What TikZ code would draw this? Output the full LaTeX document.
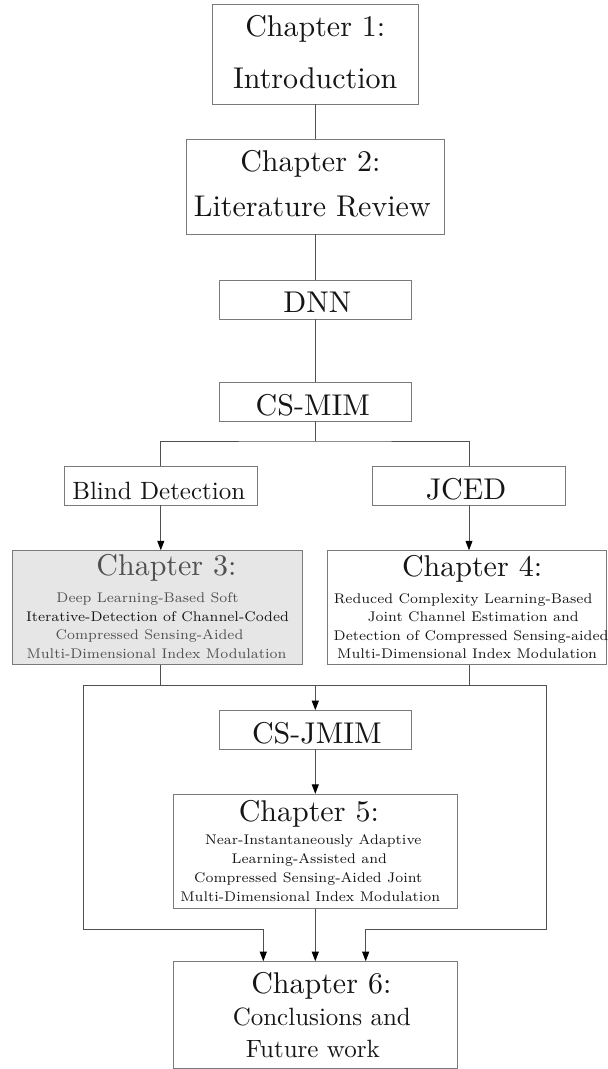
\documentclass[tikz,border=0pt]{standalone}
\usetikzlibrary{arrows.meta}

\definecolor{edgegray}{HTML}{7A7A7A}
\definecolor{wiregray}{HTML}{505050}
\definecolor{inkblack}{HTML}{151515}
\definecolor{chapfill}{HTML}{E6E6E6}
\definecolor{fadedink}{HTML}{505050}

% Text lines at three sizes; the optional argument nudges a line sideways.
\newcommand\titletext[2][0pt]{\makebox[0pt]{\hspace*{#1}\hspace*{#1}\scalebox{3}{\fontsize{10}{12}\selectfont #2}}}
\newcommand\bodytext[2][0pt]{\makebox[0pt]{\hspace*{#1}\hspace*{#1}\scalebox{2.5}{\fontsize{10}{12}\selectfont #2}}}
\newcommand\notetext[2][0pt]{\makebox[0pt]{\hspace*{#1}\hspace*{#1}\scalebox{2}{\fontsize{7}{8.5}\selectfont #2}}}
% extra depth below the last line of a box
\newcommand\lowpad[1]{\rule[-#1]{0pt}{0pt}}

\begin{document}
\begin{tikzpicture}[x=1pt,y=-1pt,
  box/.style={draw=edgegray,line width=0.9pt,inner sep=0pt,align=center,text=inkblack},
  tag/.style={box,minimum height=38.3pt,text height=26.5pt,text depth=0pt},
  wire/.style={draw=wiregray,line width=0.9pt},
  feed/.style={wire,-{Triangle[length=9.5pt,width=7pt,color=black]}},
]
\useasboundingbox (0,0) rectangle (608,1069);

% chapter and topic boxes
\node[box,minimum width=206.6pt,minimum height=100pt,font=\fontsize{10}{52}\selectfont]
  (ch1) at (315.3,54) {\titletext{Chapter 1:}\\\titletext{Introduction}\lowpad{4.8pt}};
\node[box,minimum width=258.3pt,minimum height=95pt,font=\fontsize{10}{45}\selectfont]
  (ch2) at (315.3,186.5) {\titletext[-5pt]{Chapter 2:}\\\titletext[-3pt]{Literature Review}\lowpad{5.4pt}};
\node[tag,minimum width=192.7pt,minimum height=39pt] (dnn) at (315.3,299.5) {\titletext[2pt]{DNN}};
\node[tag,minimum width=192.7pt] (csmim) at (315.3,401.8) {\titletext[-2.5pt]{CS-MIM}};
\node[tag,minimum width=193pt] (blind) at (160.8,485.8) {\bodytext[-2pt]{Blind Detection}};
\node[tag,minimum width=192.6pt] (jced) at (469,485.8) {\titletext[-3pt]{JCED}};

\node[box,fill=chapfill,text=fadedink,minimum width=289.6pt,minimum height=113.6pt,font=\fontsize{10}{18.5}\selectfont]
  (ch3) at (157.5,607.5) {\titletext[9pt]{Chapter 3:}\\[8.5pt]
    \notetext[-10pt]{Deep Learning-Based Soft}\\
    \notetext{\color{inkblack}Iterative-Detection of Channel-Coded}\\
    \notetext[-8pt]{Compressed Sensing-Aided}\\
    \notetext[-1pt]{Multi-Dimensional Index Modulation}\lowpad{1.9pt}};
\node[box,minimum width=278.8pt,minimum height=113.6pt,font=\fontsize{10}{18.5}\selectfont]
  (ch4) at (467.1,607.5) {\titletext[5pt]{Chapter 4:}\\[8.5pt]
    \notetext[-4pt]{Reduced Complexity Learning-Based}\\
    \notetext[6pt]{Joint Channel Estimation and}\\
    \notetext[4pt]{Detection of Compressed Sensing-aided}\\
    \notetext{Multi-Dimensional Index Modulation}\lowpad{1.3pt}};

\node[tag,minimum width=192.7pt] (csjmim) at (315.3,729.8) {\titletext[1.5pt]{CS-JMIM}};

\node[box,minimum width=284.6pt,minimum height=114pt,font=\fontsize{10}{19}\selectfont]
  (ch5) at (315.3,851.3) {\titletext[-6.5pt]{Chapter 5:}\\[4.3pt]
    \notetext[-2pt]{Near-Instantaneously Adaptive}\\
    \notetext[-6pt]{Learning-Assisted and}\\
    \notetext[-7pt]{Compressed Sensing-Aided Joint}\\
    \notetext[-5pt]{Multi-Dimensional Index Modulation}};
\node[box,minimum width=284.6pt,minimum height=106.3pt,font=\fontsize{10}{32}\selectfont]
  (ch6) at (315.3,1014.8) {\titletext[6pt]{Chapter 6:}\\
    \bodytext[6.5pt]{Conclusions and}\\
    \bodytext[-2.5pt]{Future work}};

% junction points of the connectors
\coordinate (split) at (315.3,441);
\coordinate (busL) at (83.3,685);
\coordinate (busR) at (546.3,685);
\coordinate (busC) at (315.3,685);
\coordinate (baseL) at (83.3,929);
\coordinate (baseR) at (546.3,929);
\coordinate (dropL) at (263.3,929);
\coordinate (dropR) at (365.7,929);

% connectors
\draw[wire] (ch1.south) -- (ch2.north);
\draw[wire] (ch2.south) -- (dnn.north);
\draw[wire] (dnn.south) -- (csmim.north);
\draw[wire] (csmim.south) -- (split);
\draw[wire] (blind.north) |- (split) -| (jced.north);
\draw[feed] (blind.south) -- (blind.south |- ch3.north);
\draw[feed] (jced.south) -- (jced.south |- ch4.north);
\draw[wire] (blind.south |- ch3.south) -- (blind.south |- busL);
\draw[wire] (jced.south |- ch4.south) -- (jced.south |- busR);
\draw[wire] (busL) -- (busR);
\draw[feed] (busC) -- (csjmim.north);
\draw[feed] (csjmim.south) -- (ch5.north);
\draw[feed] (ch5.south) -- (ch6.north);
\draw[feed] (busL) -- (baseL) -- (dropL) -- (dropL |- ch6.north);
\draw[feed] (busR) -- (baseR) -- (dropR) -- (dropR |- ch6.north);
\end{tikzpicture}
\end{document}
